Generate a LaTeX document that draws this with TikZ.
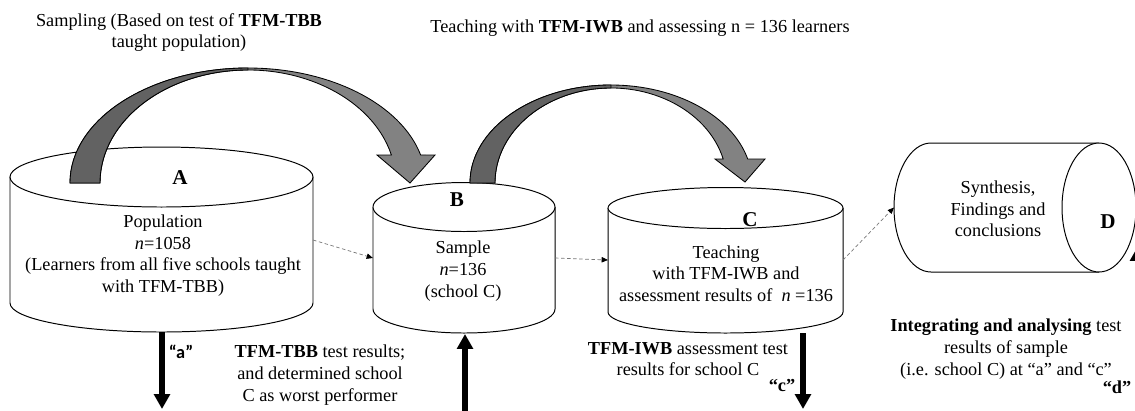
\documentclass[tikz,border=0pt]{standalone}
\usepackage{fontspec}
\setmainfont{Liberation Serif}
\newfontfamily\calibri{Carlito}
\usepackage{tikz}
\usetikzlibrary{arrows.meta,positioning,calc}
\definecolor{banddark}{RGB}{98,98,98}
\definecolor{bandlight}{RGB}{130,130,130}
\definecolor{flowgray}{RGB}{120,120,120}

\begin{document}
\begin{tikzpicture}[
      x=0.025cm, y=-0.025cm, font=\fontsize{13}{15.4}\selectfont,
      cyl/.style={draw, fill=white, line width=0.7pt},
      body/.style={inner sep=0pt, outer sep=0pt, minimum height=2.6cm},
      band/.style={draw, line width=0.6pt, fill=bandlight},
      bandshade/.style={draw, line width=0.6pt, fill=banddark},
      flow/.style={draw=flowgray, line width=0.5pt, dash pattern=on 2.5pt off 1.8pt,
                   -{Triangle[length=4.5pt, width=3.8pt, color=black]}},
      bigarrow/.style={line width=3.6pt, -{Triangle[length=10.5pt, width=11pt]}},
      letter/.style={font=\fontsize{15}{18}\selectfont\bfseries},
      note/.style={align=center, inner sep=0pt},
    ]
    \useasboundingbox (0,0) rectangle (1135,410);
    \clip (0,0) rectangle (1135,410);

    % invisible bodies, used by the connectors
    \node[body, minimum width=7.575cm, minimum height=3.15cm] (A) at (161.5,240) {};
    \node[body, minimum width=4.55cm, minimum height=2.55cm] (B) at (464,258) {};
    \node[body, minimum width=5.875cm] (C) at (725.5,260) {};
    \node[body, minimum width=6.05cm, minimum height=3.225cm] (D) at (1015,207.5) {};

    % cylinders
    \path[cyl] (10,177) -- (10,303) arc[start angle=180, end angle=0, x radius=151.5, y radius=29] -- (313,177);
    \draw[cyl] (161.5,177) ellipse [x radius=151.5, y radius=30];
    \path[cyl] (373,207) -- (373,309) arc[start angle=180, end angle=0, x radius=91, y radius=24] -- (555,207);
    \draw[cyl] (464,207) ellipse [x radius=91, y radius=24.5];
    \path[cyl] (608,208) -- (608,312) arc[start angle=180, end angle=0, x radius=117.5, y radius=21] -- (843,208);
    \draw[cyl] (725.5,208) ellipse [x radius=117.5, y radius=20.5];
    \path[cyl] (1099,143) -- (931,143) arc[start angle=270, end angle=90, x radius=37, y radius=64.5] -- (1099,272);
    \draw[cyl] (1099,207.5) ellipse [x radius=37, y radius=64.5];

    % curved block arrows
    \path[band] (70,183) arc[start angle=180, end angle=345.9, x radius=178, y radius=115]
      -- (435,155) -- (410,183) -- (377,155) -- (391.4,155)
      arc[start angle=345.65, end angle=180, x radius=148, y radius=113] -- cycle;
    \path[bandshade] (70,183) arc[start angle=180, end angle=270, x radius=178, y radius=115]
      -- (248,70) arc[start angle=270, end angle=180, x radius=148, y radius=113] -- cycle;
    \path[band] (470,183) arc[start angle=180, end angle=345.82, x radius=141, y radius=98]
      -- (765,159) -- (745,182) -- (715,159) -- (723.2,159)
      arc[start angle=345.37, end angle=180, x radius=116, y radius=95] -- cycle;
    \path[bandshade] (470,183) arc[start angle=180, end angle=270, x radius=141, y radius=98]
      -- (611,88) arc[start angle=270, end angle=180, x radius=116, y radius=95] -- cycle;

    % letters and texts in the cylinders
    \node[letter] (Alab) at (180,178) {A};
    \node[letter] (Blab) at (457,200) {B};
    \node[letter] (Clab) at (750,220) {C};
    \node[letter] (Dlab) at (1108,222) {D};
    \node[note] (poptext) at (163,255.5)
      {Population\\\textit{n}=1058\\(Learners from all five schools taught\\with TFM-TBB)};
    \node[note] (samptext) at (463,271) {Sample\\\textit{n}=136\\(school C)};
    \node[note] (teachtext) at (726,273.5)
      {Teaching\\with TFM-IWB and\\assessment results of \ \textit{n} =136};
    \node[note] (syntext) at (998,209) {Synthesis,\\Findings and\\conclusions};

    % notes
    \node[note] (sampling) at (179,32.5) {Sampling (Based on test of \textbf{TFM-TBB}\\taught population)};
    \node[note] (teachnote) at (640,28) {Teaching with \textbf{TFM-IWB} and assessing n = 136 learners};
    \node[note] (tbbnote) at (320,375) {\textbf{TFM-TBB} test results;\\and determined school\\C as worst performer};
    \node[note] (iwbnote) at (688,359) {\textbf{TFM-IWB} assessment test\\results for school C};
    \node[note] (intnote) at (1006,349)
      {\textbf{Integrating and analysing} test\\results of sample\\(i.e. school C) at “a” and “c”};
    \node[font=\calibri\fontsize{13}{15}\selectfont\bfseries] (alab) at (181,352) {“a”};
    \node[font=\fontsize{13}{15}\selectfont\bfseries] (clab) at (782,385) {“c”};
    \node[font=\fontsize{13}{15}\selectfont\bfseries] (dlab) at (1117,387) {“d”};

    % dashed flow
    \draw[flow] (A.east) -- (B.west);
    \draw[flow] (B.east) -- (C.west);
    \draw[flow] (C.east) -- (D.west);

    % result arrows
    \coordinate (Abot) at (162,332);
    \coordinate (aend) at (162,409);
    \coordinate (Bbot) at (465,334);
    \coordinate (bstart) at (465,414);
    \coordinate (Cbot) at (803,333);
    \coordinate (cend) at (803,409);
    \coordinate (Dtip) at (1138,246);
    \coordinate (dstart) at (1138,414);
    \draw[bigarrow] (Abot) -- (aend);
    \draw[bigarrow] (bstart) -- (Bbot);
    \draw[bigarrow] (Cbot) -- (cend);
    \draw[bigarrow] (dstart) -- (Dtip);
  \end{tikzpicture}
\end{document}
